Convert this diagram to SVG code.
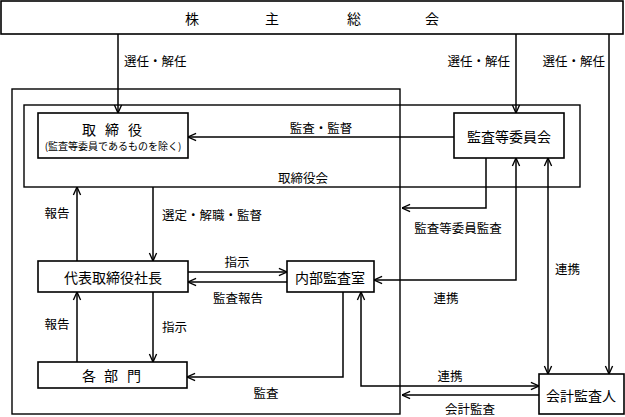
<svg xmlns="http://www.w3.org/2000/svg" width="625" height="417" viewBox="0 0 625 417">
<style>
text{font-family:"Noto Sans CJK JP","Noto Sans CJK SC",sans-serif;fill:#000;dominant-baseline:central}
.box{fill:#fff;stroke:#000;stroke-width:1.6}
.frame{fill:none;stroke:#000;stroke-width:1.4}
.n{font-size:14px;text-anchor:middle}
.l{font-size:12.5px}
.m{text-anchor:middle}
.e{text-anchor:end}
.c{fill:none;stroke:#000;stroke-width:1.5}
.a{marker-end:url(#ah)}
.b{marker-end:url(#ah);marker-start:url(#ah)}
</style>
<defs>
<marker id="ah" viewBox="0 0 10 10" refX="10" refY="5" markerWidth="9" markerHeight="10" markerUnits="userSpaceOnUse" orient="auto-start-reverse">
<path d="M1,1 L10,5 L1,9" fill="none" stroke="#000" stroke-width="1.5"/>
</marker>
</defs>
<rect width="625" height="417" fill="#fff"/>
<g id="board-frame">
<rect class="frame" x="12" y="89" width="388" height="325"/>
</g>
<g id="torishimariyakukai">
<rect class="frame" x="24" y="105" width="556" height="82"/>
<text class="l m" x="303" y="177">取締役会</text>
</g>
<g id="kabunushi-sokai">
<rect class="box" x="1" y="1" width="622" height="33"/>
<text class="n" x="192" y="18" font-size="15">株</text>
<text class="n" x="272" y="18" font-size="15">主</text>
<text class="n" x="354" y="18" font-size="15">総</text>
<text class="n" x="432" y="18" font-size="15">会</text>
</g>
<g id="connectors">
<path class="c a" d="M118,34 V113"/>
<path class="c a" d="M516,34 V113"/>
<path class="c a" d="M609,34 V374"/>
<path class="c a" d="M454,137 H188"/>
<path class="c a" d="M486,158 V208 H402"/>
<path class="c a" d="M77,261 V187"/>
<path class="c a" d="M153,187 V261"/>
<path class="c a" d="M188,272 H287"/>
<path class="c a" d="M287,282 H188"/>
<path class="c a" d="M77,362 V292"/>
<path class="c a" d="M153,292 V362"/>
<path class="c a" d="M343,292 V377 H187"/>
<path class="c b" d="M516,158 V280 H374"/>
<path class="c b" d="M548,158 V374"/>
<path class="c b" d="M361,292 V386 H539"/>
<path class="c a" d="M539,395 H402"/>
<text class="l" x="124" y="60">選任・解任</text>
<text class="l e" x="510" y="60">選任・解任</text>
<text class="l e" x="605" y="60">選任・解任</text>
<text class="l m" x="321" y="127">監査・監督</text>
<text class="l m" x="458" y="227">監査等委員監査</text>
<text class="l m" x="57" y="212">報告</text>
<text class="l" x="162" y="214">選定・解職・監督</text>
<text class="l m" x="237" y="261">指示</text>
<text class="l m" x="238" y="297">監査報告</text>
<text class="l m" x="57" y="323">報告</text>
<text class="l" x="162" y="326">指示</text>
<text class="l m" x="266" y="392">監査</text>
<text class="l m" x="446" y="297">連携</text>
<text class="l" x="555" y="268">連携</text>
<text class="l m" x="450" y="375">連携</text>
<text class="l m" x="470" y="408">会計監査</text>
</g>
<g id="torishimariyaku">
<rect class="box" x="38" y="113" width="150" height="45"/>
<text class="n" x="89" y="129" font-size="15">取</text>
<text class="n" x="112" y="129" font-size="15">締</text>
<text class="n" x="135" y="129" font-size="15">役</text>
<text class="m" x="113" y="145" font-size="10">(監査等委員であるものを除く)</text>
</g>
<g id="kansa-tou-iinkai">
<rect class="box" x="454" y="113" width="110" height="45"/>
<text class="n" x="509" y="136">監査等委員会</text>
</g>
<g id="daihyo">
<rect class="box" x="38" y="261" width="150" height="31"/>
<text class="n" x="113" y="277">代表取締役社長</text>
</g>
<g id="naibu-kansa">
<rect class="box" x="287" y="261" width="87" height="31"/>
<text class="n" x="330" y="277">内部監査室</text>
</g>
<g id="kakubumon">
<rect class="box" x="38" y="362" width="149" height="26"/>
<text class="n" x="89" y="375">各</text>
<text class="n" x="111" y="375">部</text>
<text class="n" x="134" y="375">門</text>
</g>
<g id="kaikei-kansanin">
<rect class="box" x="539" y="374" width="85" height="40"/>
<text class="n" x="581" y="395">会計監査人</text>
</g>
</svg>
